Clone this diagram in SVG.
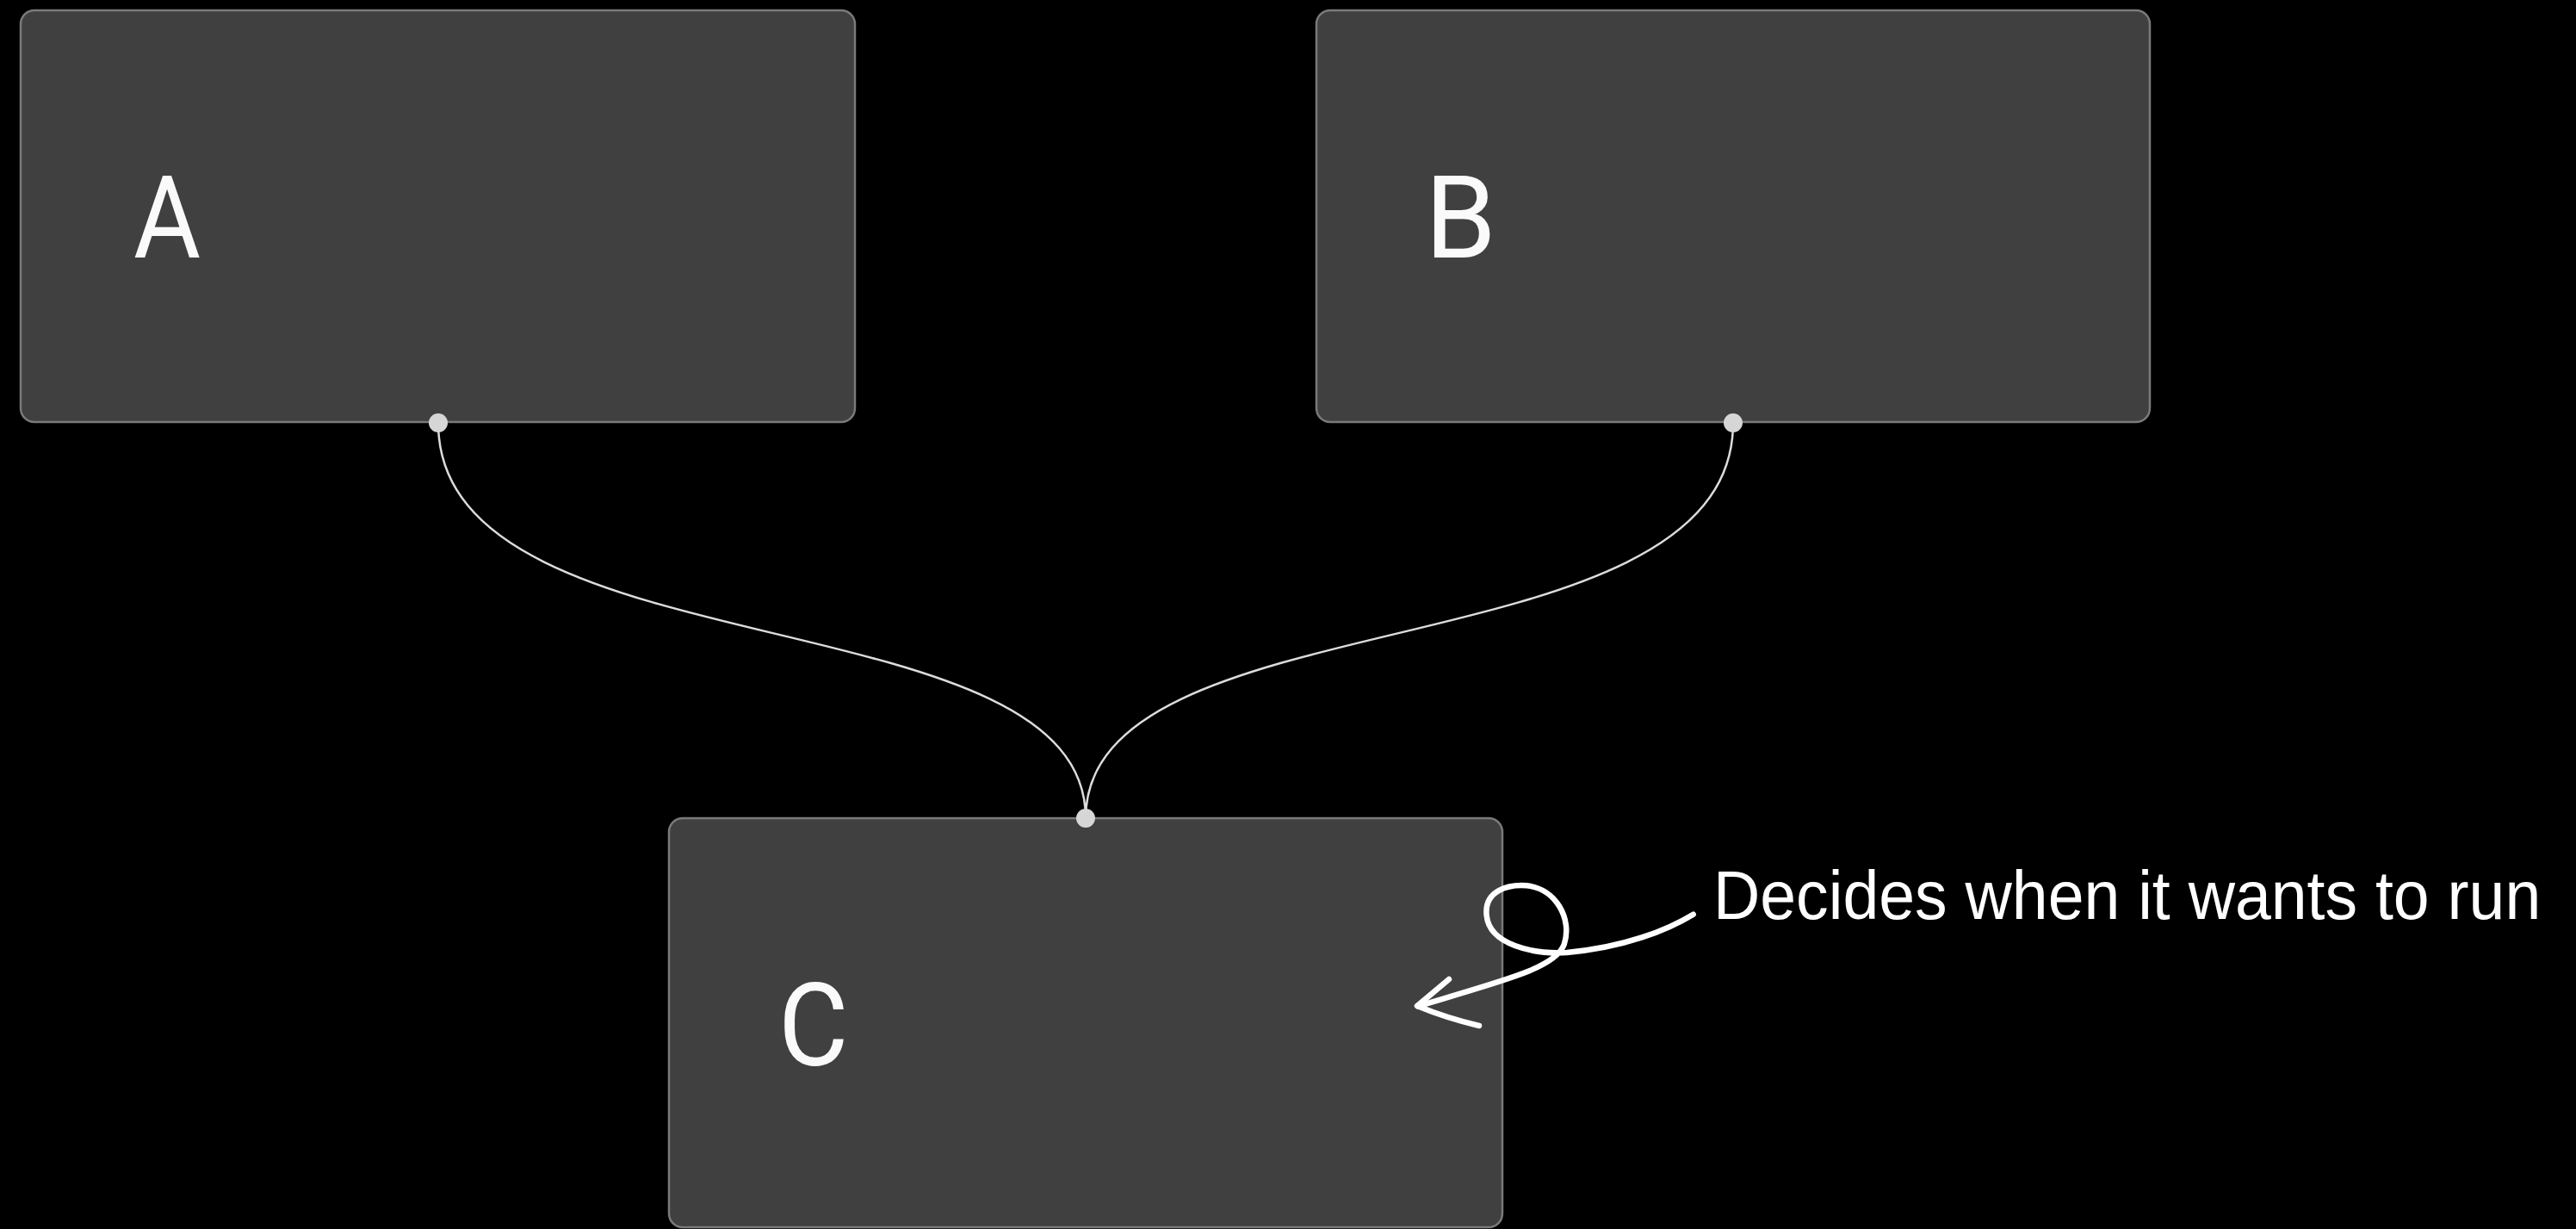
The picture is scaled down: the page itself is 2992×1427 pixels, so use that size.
<svg xmlns="http://www.w3.org/2000/svg" width="2992" height="1427" viewBox="0 0 2992 1427">
  <style>
    .node { fill: #404040; stroke: #7a7a7a; stroke-width: 2.5; }
    .label { fill: #fafafa; font-family: Roboto, "Liberation Sans", sans-serif; font-size: 133px; }
    .edge { fill: none; stroke: #dcdcdc; stroke-width: 2.5; }
    .handle { fill: #d6d6d6; }
    .note { fill: #ffffff; font-family: "Liberation Sans", sans-serif; font-size: 80px; }
    .ink { fill: none; stroke: #ffffff; stroke-width: 6.5; stroke-linecap: round; stroke-linejoin: round; }
  </style>
  <rect x="0" y="0" width="2992" height="1427" fill="#000000"/>

  <g id="connectors">
    <path class="edge" d="M 509 491 C 509 785, 1261 687, 1261 950"/>
    <path class="edge" d="M 2013 491 C 2013 785, 1261 687, 1261 950"/>
  </g>

  <g id="node-A">
    <rect class="node" x="24" y="12" width="969" height="478" rx="16" ry="16"/>
    <text class="label" transform="translate(155 299) scale(0.9 1)" x="0" y="0">A</text>
    <circle class="handle" cx="509" cy="491" r="11"/>
  </g>

  <g id="node-B">
    <rect class="node" x="1529" y="12" width="968" height="478" rx="16" ry="16"/>
    <text class="label" x="1655" y="299">B</text>
    <circle class="handle" cx="2013" cy="491" r="11"/>
  </g>

  <g id="node-C">
    <rect class="node" x="777" y="950" width="968" height="475" rx="16" ry="16"/>
    <text class="label" transform="translate(904 1237) scale(0.94 1)" x="0" y="0">C</text>
    <circle class="handle" cx="1261" cy="950" r="11"/>
  </g>

  <g id="annotation">
    <path class="ink" d="M 1966.7 1061.7 C 1936.7 1080, 1886.7 1100, 1820 1106 C 1780 1108.3, 1730 1096.7, 1726.7 1063.3 C 1723.3 1033.3, 1753.3 1026.7, 1773.3 1028.3 C 1806.7 1031.7, 1826.7 1066.7, 1816.7 1096.7 C 1806.7 1123.3, 1753.3 1136.7, 1646.7 1168.3"/>
    <path class="ink" d="M 1683 1137 L 1646 1168 Q 1680 1182, 1718 1191"/>
    <text class="note" transform="translate(1990 1067) scale(0.94 1)" x="0" y="0">Decides when it wants to run</text>
  </g>
</svg>
